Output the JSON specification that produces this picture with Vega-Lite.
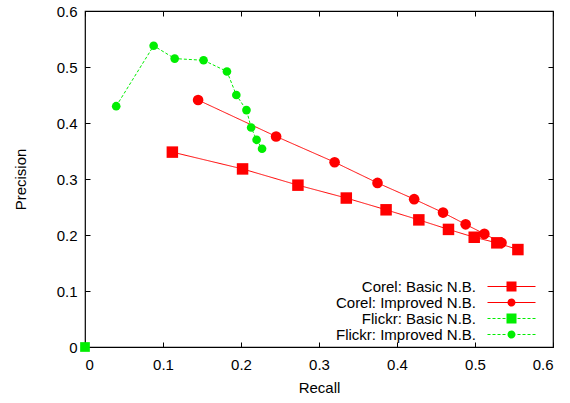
{
  "$schema": "https://vega.github.io/schema/vega-lite/v6.json",
  "width": 468,
  "height": 336,
  "autosize": {"type": "none"},
  "padding": {"left": 85, "top": 11, "right": 17, "bottom": 56},
  "background": "white",
  "config": {
    "font": "Liberation Sans",
    "view": {"stroke": "black", "strokeWidth": 1.2},
    "axis": {
      "grid": false,
      "domain": false,
      "tickColor": "black",
      "tickSize": -5,
      "tickWidth": 1,
      "labelFont": "Liberation Sans",
      "labelFontSize": 15,
      "labelColor": "black",
      "titleFont": "Liberation Sans",
      "titleFontSize": 15,
      "titleFontWeight": "normal",
      "titleColor": "black"
    },
    "legend": {
      "labelFont": "Liberation Sans",
      "labelFontSize": 15,
      "labelColor": "black",
      "symbolOpacity": 1,
      "symbolStrokeWidth": 0
    }
  },
  "data": {
    "values": [
      {"series": "Corel: Basic N.B.", "recall": 0.112, "precision": 0.348},
      {"series": "Corel: Basic N.B.", "recall": 0.202, "precision": 0.318},
      {"series": "Corel: Basic N.B.", "recall": 0.273, "precision": 0.289},
      {"series": "Corel: Basic N.B.", "recall": 0.335, "precision": 0.266},
      {"series": "Corel: Basic N.B.", "recall": 0.386, "precision": 0.245},
      {"series": "Corel: Basic N.B.", "recall": 0.428, "precision": 0.227},
      {"series": "Corel: Basic N.B.", "recall": 0.466, "precision": 0.210},
      {"series": "Corel: Basic N.B.", "recall": 0.499, "precision": 0.196},
      {"series": "Corel: Basic N.B.", "recall": 0.528, "precision": 0.186},
      {"series": "Corel: Basic N.B.", "recall": 0.555, "precision": 0.174},
      {"series": "Corel: Improved N.B.", "recall": 0.145, "precision": 0.441},
      {"series": "Corel: Improved N.B.", "recall": 0.245, "precision": 0.376},
      {"series": "Corel: Improved N.B.", "recall": 0.320, "precision": 0.330},
      {"series": "Corel: Improved N.B.", "recall": 0.375, "precision": 0.293},
      {"series": "Corel: Improved N.B.", "recall": 0.422, "precision": 0.264},
      {"series": "Corel: Improved N.B.", "recall": 0.459, "precision": 0.240},
      {"series": "Corel: Improved N.B.", "recall": 0.488, "precision": 0.219},
      {"series": "Corel: Improved N.B.", "recall": 0.512, "precision": 0.202},
      {"series": "Corel: Improved N.B.", "recall": 0.534, "precision": 0.186},
      {"series": "Flickr: Basic N.B.", "recall": 0.0, "precision": 0.0},
      {"series": "Flickr: Improved N.B.", "recall": 0.040, "precision": 0.430},
      {"series": "Flickr: Improved N.B.", "recall": 0.088, "precision": 0.538},
      {"series": "Flickr: Improved N.B.", "recall": 0.115, "precision": 0.515},
      {"series": "Flickr: Improved N.B.", "recall": 0.152, "precision": 0.512},
      {"series": "Flickr: Improved N.B.", "recall": 0.182, "precision": 0.492},
      {"series": "Flickr: Improved N.B.", "recall": 0.194, "precision": 0.450},
      {"series": "Flickr: Improved N.B.", "recall": 0.207, "precision": 0.423},
      {"series": "Flickr: Improved N.B.", "recall": 0.213, "precision": 0.392},
      {"series": "Flickr: Improved N.B.", "recall": 0.220, "precision": 0.370},
      {"series": "Flickr: Improved N.B.", "recall": 0.227, "precision": 0.354}
    ]
  },
  "resolve": {
    "axis": {"x": "independent", "y": "independent"},
    "scale": {"shape": "independent"},
    "legend": {"color": "independent", "shape": "independent"}
  },
  "layer": [
    {
      "mark": {"type": "line", "strokeWidth": 1, "clip": false},
      "encoding": {
        "x": {
          "field": "recall", "type": "quantitative", "title": "Recall",
          "scale": {"domain": [0, 0.6], "nice": false, "zero": false},
          "axis": {"orient": "bottom", "values": [0, 0.1, 0.2, 0.3, 0.4, 0.5, 0.6], "format": "~g", "labelPadding": 15, "titlePadding": 8}
        },
        "y": {
          "field": "precision", "type": "quantitative", "title": "Precision",
          "scale": {"domain": [0, 0.6], "nice": false, "zero": false},
          "axis": {"orient": "left", "values": [0, 0.1, 0.2, 0.3, 0.4, 0.5, 0.6], "format": "~g", "labelPadding": 13, "titlePadding": 28}
        },
        "color": {
          "field": "series", "type": "nominal", "legend": null,
          "scale": {
            "domain": ["Corel: Basic N.B.", "Corel: Improved N.B.", "Flickr: Basic N.B.", "Flickr: Improved N.B."],
            "range": ["#ff0000", "#ff0000", "#00ee00", "#00ee00"]
          }
        },
        "strokeDash": {
          "field": "series", "type": "nominal", "legend": null,
          "scale": {
            "domain": ["Corel: Basic N.B.", "Corel: Improved N.B.", "Flickr: Basic N.B.", "Flickr: Improved N.B."],
            "range": [[1, 0], [1, 0], [3, 2], [3, 2]]
          }
        }
      }
    },
    {
      "mark": {"type": "point", "filled": true, "opacity": 1, "clip": false},
      "encoding": {
        "x": {
          "field": "recall", "type": "quantitative",
          "scale": {"domain": [0, 0.6], "nice": false, "zero": false},
          "axis": {"orient": "top", "values": [0, 0.1, 0.2, 0.3, 0.4, 0.5, 0.6], "labels": false, "title": null}
        },
        "y": {
          "field": "precision", "type": "quantitative",
          "scale": {"domain": [0, 0.6], "nice": false, "zero": false},
          "axis": {"orient": "right", "values": [0, 0.1, 0.2, 0.3, 0.4, 0.5, 0.6], "labels": false, "title": null}
        },
        "color": {"field": "series", "type": "nominal", "legend": null},
        "shape": {
          "field": "series", "type": "nominal", "legend": null,
          "scale": {
            "domain": ["Corel: Basic N.B.", "Corel: Improved N.B.", "Flickr: Basic N.B.", "Flickr: Improved N.B."],
            "range": ["square", "circle", "square", "circle"]
          }
        },
        "size": {
          "field": "series", "type": "nominal", "legend": null,
          "scale": {
            "domain": ["Corel: Basic N.B.", "Corel: Improved N.B.", "Flickr: Basic N.B.", "Flickr: Improved N.B."],
            "range": [132, 75, 132, 75]
          }
        }
      }
    },
    {
      "mark": {"type": "point", "filled": true, "opacity": 0, "clip": false},
      "encoding": {
        "x": {"field": "recall", "type": "quantitative", "scale": {"domain": [0, 0.6], "nice": false, "zero": false}, "axis": null},
        "y": {"field": "precision", "type": "quantitative", "scale": {"domain": [0, 0.6], "nice": false, "zero": false}, "axis": null},
        "color": {
          "field": "series", "type": "nominal", "title": null,
          "legend": {
            "orient": "none", "legendX": 419, "legendY": 268, "padding": 0,
            "symbolSize": 100, "rowPadding": -1, "labelAlign": "right", "labelOffset": -43,
            "symbolStrokeWidth": 0, "symbolOpacity": 1
          }
        },
        "shape": {
          "field": "series", "type": "nominal", "title": null,
          "scale": {
            "domain": ["Corel: Basic N.B.", "Corel: Improved N.B.", "Flickr: Basic N.B.", "Flickr: Improved N.B."],
            "range": [
              "M-4.8,-0.1H4.8V0.1H-4.8Z M-1,-1H1V1H-1Z",
              "M-4.8,-0.1H-0.7V0.1H-4.8Z M0.7,-0.1H4.8V0.1H0.7Z M-0.8,0A0.8,0.8,0,1,1,0.8,0A0.8,0.8,0,1,1,-0.8,0Z",
              "M-4.8,-0.1H-4.2V0.1H-4.8Z M-3.8,-0.1H-3.2V0.1H-3.8Z M-2.8,-0.1H-2.2V0.1H-2.8Z M-1.8,-0.1H-1.2V0.1H-1.8Z M1.2,-0.1H1.8V0.1H1.2Z M2.2,-0.1H2.8V0.1H2.2Z M3.2,-0.1H3.8V0.1H3.2Z M4.2,-0.1H4.8V0.1H4.2Z M-1,-1H1V1H-1Z",
              "M-4.8,-0.1H-4.2V0.1H-4.8Z M-3.8,-0.1H-3.2V0.1H-3.8Z M-2.8,-0.1H-2.2V0.1H-2.8Z M-1.8,-0.1H-1.2V0.1H-1.8Z M1.2,-0.1H1.8V0.1H1.2Z M2.2,-0.1H2.8V0.1H2.2Z M3.2,-0.1H3.8V0.1H3.2Z M4.2,-0.1H4.8V0.1H4.2Z M-0.8,0A0.8,0.8,0,1,1,0.8,0A0.8,0.8,0,1,1,-0.8,0Z"
            ]
          },
          "legend": {
            "orient": "none", "legendX": 419, "legendY": 268, "padding": 0,
            "symbolSize": 100, "rowPadding": -1, "labelAlign": "right", "labelOffset": -43,
            "symbolStrokeWidth": 0, "symbolOpacity": 1
          }
        }
      }
    }
  ]
}
